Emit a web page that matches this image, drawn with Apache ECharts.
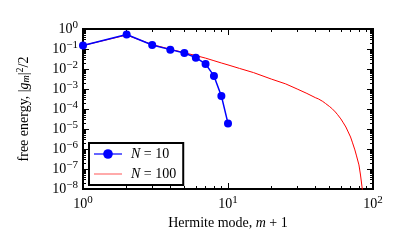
<!DOCTYPE html>
<html>
<head>
<meta charset="utf-8">
<script src="https://cdn.jsdelivr.net/npm/echarts@6/dist/echarts.min.js"></script>
<style>html,body{margin:0;padding:0;background:#fff}#c{width:407px;height:252px}</style>
</head>
<body>
<div id="c"></div>
<script>
// N = 10 series
const modesN10 = [1, 2, 3, 4, 5, 6, 7, 8, 9, 10];
const energyN10 = [0.15, 0.53, 0.158, 0.093, 0.063, 0.037, 0.018, 0.0045, 4.5e-4, 1.9e-5];
// N = 100 series (read at selected modes)
const modesN100 = [1, 2, 3, 4, 5, 6, 7, 8, 9, 10, 12, 15, 20, 25, 30, 35, 40, 42, 45, 47, 50, 52, 55, 57, 60, 62, 65, 67, 70, 72, 75, 77, 80, 82, 84, 86];
const energyN100 = [0.15, 0.5, 0.166, 0.098, 0.065, 0.047, 0.035, 0.026, 0.020, 0.016, 0.0107, 0.0066, 0.0031, 0.0018, 0.001, 6.0e-4, 3.7e-4, 3.2e-4, 2.4e-4, 1.9e-4, 1.35e-4, 1.07e-4, 7.1e-5, 5.2e-5, 3.2e-5, 2.2e-5, 1.26e-5, 7.9e-6, 4.0e-6, 2.2e-6, 9e-7, 4.5e-7, 1.6e-7, 5e-8, 1.26e-8, 3e-9];
// tick positions
const xMajorTicks = [1, 10, 100];
const xMinorTicks = [2, 3, 4, 5, 6, 7, 8, 9, 20, 30, 40, 50, 60, 70, 80, 90];
const yMajorTicks = [1e-8, 1e-7, 1e-6, 1e-5, 1e-4, 1e-3, 1e-2, 1e-1, 1];
const yMinorTicks = [];
for (let e = -8; e < 0; e++) for (let k = 2; k <= 9; k++) yMinorTicks.push(+(k * Math.pow(10, e)).toPrecision(3));

const FONT = 'Liberation Serif';
const rich = {
  b: {fontFamily: FONT, fontSize: 14, color: '#000'},
  e: {fontFamily: FONT, fontSize: 11, color: '#000', padding: [0, 0, 8, 0]},
  i: {fontFamily: FONT, fontSize: 14, fontStyle: 'italic', color: '#000'},
  t: {fontFamily: FONT, fontSize: 14, color: '#000'},
  s: {fontFamily: FONT, fontSize: 10, fontStyle: 'italic', color: '#000', padding: [0, 0, -5, 0]},
  p: {fontFamily: FONT, fontSize: 10, color: '#000', padding: [0, 0, 8, 0]}
};
function powLabel(v) {
  const ex = Math.round(Math.log10(v));
  return '{b|10}{e|' + (ex < 0 ? '\u2212' + (-ex) : ex) + '}';
}

function axis(dim, pos, ticks, len, showLabel, extra) {
  const a = {
    type: 'log', logBase: 10, position: pos,
    min: dim === 'x' ? 1 : 1e-8, max: dim === 'x' ? 100 : 1,
    axisLine: {show: true, onZero: false, lineStyle: {color: '#000', width: 2}},
    axisTick: {show: true, inside: true, length: len, lineStyle: {color: '#000', width: 1}, customValues: ticks},
    axisLabel: showLabel ? {show: true, customValues: ticks, formatter: powLabel, rich: rich, margin: dim === 'x' ? 6 : 5} : {show: false},
    splitLine: {show: false}, minorTick: {show: false}
  };
  return Object.assign(a, extra || {});
}

const chart = echarts.init(document.getElementById('c'), null, {renderer: 'canvas'});
chart.setOption({
  animation: false,
  backgroundColor: '#fff',
  grid: {left: 83, right: 34, top: 29, bottom: 63},
  xAxis: [
    axis('x', 'bottom', xMajorTicks, 6, true, {
      name: '{t|Hermite mode, }{i|m}{t| + 1}', nameLocation: 'middle', nameGap: 27,
      nameTextStyle: {rich: rich}
    }),
    axis('x', 'bottom', xMinorTicks, 3, false),
    axis('x', 'top', xMajorTicks, 6, false),
    axis('x', 'top', xMinorTicks, 3, false)
  ],
  yAxis: [
    axis('y', 'left', yMajorTicks, 6, true, {
      name: '{t|free energy, |}{i|g}{s|m}{t||}{p|2}{t|/2}', nameLocation: 'middle', nameGap: 50,
      nameTextStyle: {rich: rich}
    }),
    axis('y', 'left', yMinorTicks, 3, false),
    axis('y', 'right', yMajorTicks, 6, false),
    axis('y', 'right', yMinorTicks, 3, false)
  ],
  legend: {
    left: 89, top: 143, orient: 'vertical',
    padding: [4, 7, 4, 4], itemWidth: 28, itemHeight: 12, itemGap: 6,
    borderColor: '#000', borderWidth: 2, backgroundColor: '#fff', borderRadius: 0,
    textStyle: {fontFamily: FONT, fontSize: 14, color: '#000', padding: [0, 0, 0, 4], rich: rich},
    formatter: function (n) { return n === 'N10' ? '{i|N}{t| = 10}' : '{i|N}{t| = 100}'; },
    data: [
      {name: 'N10', lineStyle: {opacity: 0.6}},
      {name: 'N100', icon: 'path://M0,0L100,0L100,4L0,4Z', itemStyle: {color: '#ff0000', opacity: 0.6}}
    ]
  },
  series: [
    {
      name: 'N100', type: 'line', xAxisIndex: 0, yAxisIndex: 0,
      data: modesN100.map((m, i) => [m, energyN100[i]]),
      showSymbol: false, symbol: 'none', clip: true,
      lineStyle: {color: '#ff0000', width: 1}, itemStyle: {color: '#ff0000'}, z: 2
    },
    {
      name: 'N10', type: 'line', xAxisIndex: 0, yAxisIndex: 0,
      data: modesN10.map((m, i) => [m, energyN10[i]]),
      symbol: 'circle', symbolSize: 8, clip: false,
      lineStyle: {color: '#0000ff', width: 1.5}, itemStyle: {color: '#0000ff'}, z: 3
    }
  ]
});
</script>
</body>
</html>
